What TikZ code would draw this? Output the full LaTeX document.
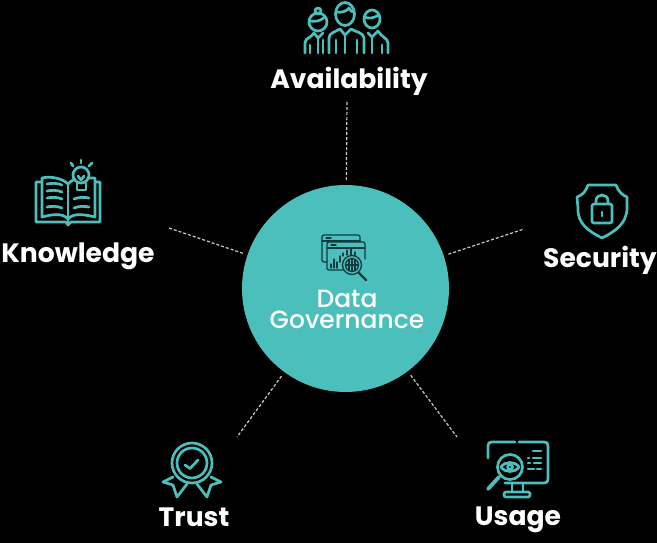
\documentclass[tikz,border=0pt]{standalone}
\usepackage{fontspec}
\setmainfont{Poppins}
\newfontfamily\mediumfont{Poppins Medium}
\usepackage{xcolor}
\definecolor{tealfill}{HTML}{4BBFBC}
\definecolor{tealdark}{HTML}{123A3E}

\begin{document}
\begin{tikzpicture}[x=1pt,y=-1pt,
  % centre disc and the labels round it
  hub/.style={circle,fill=tealfill,minimum size=207pt,inner sep=0pt,outer sep=5pt},
  caption/.style={text=white,font=\fontsize{26.6}{28}\selectfont\bfseries,inner sep=0pt},
  title/.style={text=white,align=center,font=\fontsize{25}{21}\mediumfont,inner sep=0pt},
  spoke/.style={draw=white!80!black,densely dashed,line width=1.2pt},
  icon/.style={draw=tealfill,line width=2.7pt,line cap=round,line join=round},
  darkicon/.style={draw=tealdark,line width=1.3pt,line cap=round,line join=round}
]

\fill[black,use as bounding box] (0,0) rectangle (657,543);

\node[hub] (G) at (345.5,288.5) {};

\coordinate (A) at (347,100);  % top
\coordinate (B) at (524,229);  % right
\coordinate (C) at (457,437);  % lower right
\coordinate (D) at (237,437);  % lower left
\coordinate (E) at (169,228);  % left

% spokes
\draw[spoke] (G)--(A);
\draw[spoke] (G)--(B);
\draw[spoke] (G)--(C);
\draw[spoke] (G)--(D);
\draw[spoke] (G)--(E);

\node[title] (gov) at (347,309) {Data\\Governance};

\node[caption] (avail) at (349,81) {Availability};
\node[caption] (secur) at (600,260) {Security};
\node[caption] (usage) at (518,520) {Usage};
\node[caption] (trust) at (194,517) {Trust};
\node[caption] (know) at (78,256) {Knowledge};

% people
\draw[icon] (345,14) ellipse (9.5 and 11.5);
\draw[icon] (336,12) .. controls (342,13) and (347,11) .. (349,8) .. controls (350,11) and (352,12) .. (354,12);
\draw[icon] (329,53)--(329,38) .. controls (329,33) and (335,32) .. (340,29);
\draw[icon] (364,53)--(364,38) .. controls (364,33) and (356,32) .. (351,29);
\draw[icon] (340,29)--(345,35)--(351,29);
\draw[icon] (345,35)--(345,53);
\draw[icon] (336,53)--(336,40);
\draw[icon] (357,53)--(357,40);
\draw[icon] (318,22) circle (9);
\draw[icon] (318,11) circle (3);
\draw[icon] (310,21) .. controls (316,22) and (320,21) .. (325,17);
\draw[icon] (305,53)--(305,43) .. controls (305,38) and (311,38) .. (314,33);
\draw[icon] (314,33)--(318,38)--(323,33);
\draw[icon] (310,53)--(310,45);
\draw[icon] (318,38)--(318,53);
\draw[icon] (323,40)--(323,53);
\draw[icon] (372,19) ellipse (8 and 9);
\draw[icon] (364,17) .. controls (369,19) and (374,18) .. (379,15);
\draw[icon] (388,53)--(388,43) .. controls (388,38) and (381,37) .. (378,31);
\draw[icon] (368,33)--(372,37)--(378,31);
\draw[icon] (372,37)--(372,53);
\draw[icon] (382,53)--(382,45);

% book
\draw[icon] (81,175) circle (8);
\draw[icon] (77,183)--(77,190)--(86,190)--(86,183);
\draw[icon] (78,176)--(81,180)--(84,176);
\draw[icon] (81,160)--(81,163);
\draw[icon] (71,163)--(73,166);
\draw[icon] (92,163)--(89,166);
\draw[icon] (41,182)--(36,182)--(36,222)--(66,222)--(68,225)--(71,222)--(100,222)--(100,182)--(95,182);
\draw[icon] (68,184) .. controls (62,178) and (50,176) .. (42,178)--(42,217) .. controls (50,215) and (62,212) .. (68,219);
\draw[icon] (68,184) .. controls (70,182) and (71,181) .. (73,180);
\draw[icon] (68,219) .. controls (74,212) and (86,215) .. (95,217)--(95,178)--(89,178);
\draw[icon] (68,184)--(68,224);
\foreach \ypos in {184,191,198,207} {
  \draw[icon] (47,\ypos) .. controls (52,\ypos-1) and (57,\ypos-1) .. (62,\ypos+1);
}
\foreach \ypos in {198,207} {
  \draw[icon] (74,\ypos+1) .. controls (79,\ypos-1) and (84,\ypos-1) .. (89,\ypos);
}

% shield
\draw[icon] (602,238) .. controls (590,232) and (577,224) .. (578,208)--(577,197) .. controls (583,195) and (586,191) .. (588,185)--(616,185) .. controls (618,191) and (622,195) .. (627,197)--(627,208) .. controls (627,224) and (614,232) .. (602,238)--cycle;
\draw[icon,rounded corners=2pt] (592,204) rectangle (612,223);
\draw[icon] (596,204)--(596,201) .. controls (596,193) and (608,193) .. (608,201)--(608,204);
\draw[icon] (602,212)--(602,216);

% ribbon
\draw[icon] (192,463) circle (20);
\draw[icon] (192,463) circle (15);
\draw[icon] (185,465)--(190,468.5)--(198,460);
\draw[icon] (173,477)--(163,482)--(173,485)--(177,497)--(187,484);
\draw[icon] (211,477)--(221,482)--(211,485)--(207,497)--(197,484);

% monitor
\draw[icon] (488,458)--(488,446) .. controls (488,443) and (489,442) .. (492,442)--(515,442);
\draw[icon] (519,442)--(544,442) .. controls (547,442) and (548,443) .. (548,446)--(548,479) .. controls (548,482) and (547,483) .. (544,483)--(505,483);
\draw[icon] (510,467) circle (12.5);
\draw[icon] (501,467) .. controls (505,461) and (515,461) .. (519,467) .. controls (515,473) and (505,473) .. (501,467)--cycle;
\draw[icon] (510,467) circle (2.5);
\draw[icon,line width=3.8pt] (499,477)--(488,489);
\draw[icon] (512,483)--(512,492);
\draw[icon] (523,483)--(523,492);
\draw[icon,rounded corners=2pt] (504,492) rectangle (530,497);
\draw[icon] (533,451)--(541,451);
\draw[icon] (528,458)--(529,458);
\draw[icon] (533,458)--(541,458);
\draw[icon] (528,463)--(530,463);
\draw[icon] (534,463)--(541,463);
\draw[icon] (528,469)--(534,469);
\draw[icon] (537,469)--(541,469);

% centre icon
\draw[darkicon,rounded corners=2pt] (327,262)--(322,262)--(322,235)--(360,235)--(360,242);
\draw[darkicon,rounded corners=2pt] (344,270)--(327,270)--(327,242)--(365,242)--(365,259);
\draw[darkicon] (322,241)--(360,241);
\draw[darkicon] (327,248)--(365,248);
\draw[darkicon] (326,238)--(331,238);
\draw[darkicon] (331,245)--(336,245);
\draw[darkicon] (331,268)--(331,264);
\draw[darkicon] (334,268)--(334,259);
\draw[darkicon] (337,268)--(337,262);
\draw[darkicon] (340,262)--(340,256);
\draw[darkicon] (343,256)--(343,253);
\draw[darkicon] (347,255)--(347,250);
\draw[darkicon] (351,255)--(351,249);
\draw[darkicon] (355,256)--(355,252);
\draw[darkicon] (352,265) circle (9.5);
\draw[darkicon] (352,265) circle (6.5);
\draw[darkicon] (349,260)--(349,270);
\draw[darkicon] (352,259)--(352,271);
\draw[darkicon] (355,260)--(355,270);
\draw[darkicon] (346,265)--(358,265);
\draw[darkicon,line width=2.4pt] (359,273)--(366,280);

\end{tikzpicture}
\end{document}
